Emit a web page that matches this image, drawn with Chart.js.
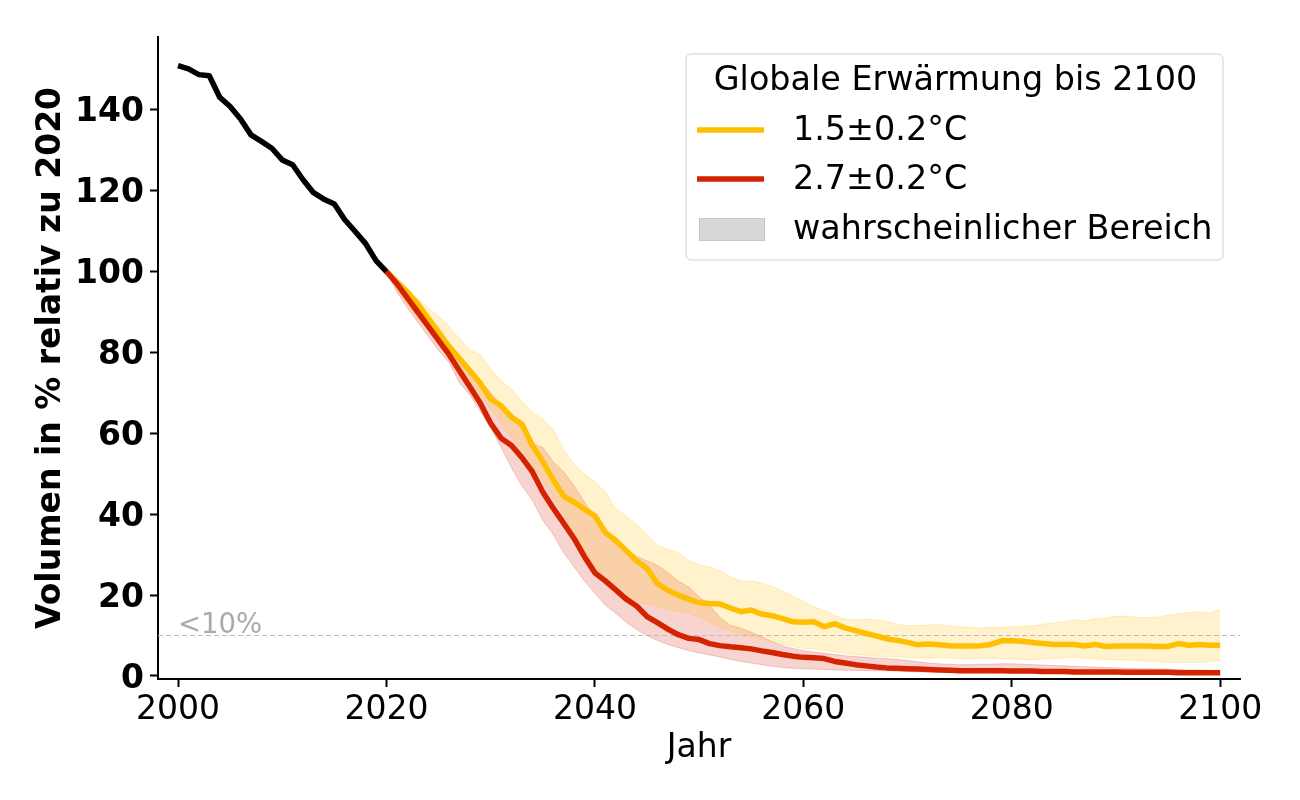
<!DOCTYPE html>
<html>
<head>
<meta charset="utf-8">
<script src="https://cdn.jsdelivr.net/npm/chart.js@4"></script>
<style>
  html, body { margin: 0; padding: 0; background: #fff; }
  #wrap { width: 1300px; height: 800px; }
</style>
</head>
<body>
<div id="wrap"><canvas id="myChart" width="1300" height="800"></canvas></div>
<script>
// Gletschervolumen: historisch bis 2020, danach zwei Erwärmungsszenarien

const FONT = "'DejaVu Sans', sans-serif";

// years (categories)
const histYears = Array.from({ length: 21 }, (_, i) => 2000 + i);
const projYears = Array.from({ length: 81 }, (_, i) => 2020 + i);
const xTickValues = [2000, 2020, 2040, 2060, 2080, 2100];
const yTickValues = [0, 20, 40, 60, 80, 100, 120, 140];

// historical volume in % of 2020
const histVolume = [150.9, 150.1, 148.7, 148.4, 143.1, 140.8, 137.7, 133.8, 132.2, 130.5,
  127.6, 126.4, 122.7, 119.5, 117.9, 116.7, 112.8, 109.9, 106.9, 102.7, 100];

// 1.5 °C scenario, 2020..2100
const median15 = [100, 97.5, 95, 92, 88.5, 85, 81.5, 78.5, 75.5, 72.4,
  68.5, 66.8, 64, 62.3, 57, 53, 48.5, 44.5, 43, 41.2,
  39.6, 35.5, 33.5, 31, 28.5, 26.6, 22.8, 21.2, 20, 19,
  18.1, 17.9, 17.8, 16.8, 15.9, 16.3, 15.3, 14.9, 14.2, 13.4,
  13.3, 13.4, 12.2, 12.9, 11.9, 11.2, 10.5, 9.9, 9.2, 8.8,
  8.3, 7.7, 7.9, 7.7, 7.5, 7.4, 7.4, 7.5, 7.8, 8.7,
  8.7, 8.6, 8.3, 8.0, 7.8, 7.8, 7.8, 7.4, 7.8, 7.3,
  7.4, 7.4, 7.4, 7.4, 7.3, 7.3, 8.0, 7.6, 7.8, 7.6,
  7.6];
const upper15 = [100, 97.8, 95.5, 93.2, 91, 89, 86.5, 83.5, 80.6, 79.5,
  76, 73, 71, 68, 65.2, 63.5, 61, 56, 52.3, 50,
  48, 45.5, 41.5, 39.5, 37.5, 35, 32.3, 31.3, 30.5, 28.5,
  27.5, 27, 26, 24.6, 23.5, 23.5, 23, 22.2, 21, 19.8,
  18.5, 17.2, 16.2, 15, 14, 13.9, 14, 13.9, 13.5, 12.8,
  12.4, 12.5, 12.6, 12.7, 12.4, 12.2, 12.0, 11.8, 12.1, 12.0,
  12.2, 12.3, 12.4, 12.8, 13.1, 13.4, 13.9, 13.6, 14.2, 14.3,
  14.8, 14.8, 14.5, 14.4, 14.6, 15.0, 15.4, 15.7, 15.9, 15.6,
  16.5];
const lower15 = [100, 95.5, 92, 88.5, 85.5, 82.5, 79.5, 76.5, 73, 69.5,
  66, 62.5, 59, 56, 52, 48.5, 44, 40, 35.5, 31,
  27, 24, 21.5, 19.5, 18.5, 17.8, 17.1, 16.5, 16, 15.5,
  14.5, 13.2, 12, 11.2, 10.4, 9.8, 9.1, 8.5, 7.9, 7.3,
  6.8, 6.6, 6.4, 6.0, 5.6, 5.3, 5.1, 4.9, 4.8, 4.7,
  4.6, 4.4, 4.4, 4.5, 4.4, 4.4, 4.3, 4.4, 4.4, 4.3,
  4.2, 4.1, 4.0, 4.2, 4.3, 4.5, 4.6, 4.4, 4.2, 4.1,
  4.0, 4.0, 3.8, 3.6, 3.5, 3.4, 3.3, 3.3, 3.3, 3.6,
  3.9];

// 2.7 °C scenario, 2020..2100
const median27 = [100, 97, 93.5, 90, 86.5, 83, 79.5, 75.5, 71.5, 67.5,
  62.5, 58.8, 57, 54, 50.5, 45.5, 41.5, 37.8, 34, 29.5,
  25.5, 23.5, 21.3, 19, 17.3, 14.7, 13.2, 11.6, 10.2, 9.3,
  9.0, 8.0, 7.5, 7.2, 7.0, 6.7, 6.2, 5.8, 5.3, 4.9,
  4.6, 4.5, 4.3, 3.6, 3.2, 2.8, 2.5, 2.2, 2.0, 1.9,
  1.8, 1.7, 1.6, 1.5, 1.4, 1.3, 1.3, 1.3, 1.3, 1.3,
  1.2, 1.2, 1.2, 1.1, 1.1, 1.1, 1.0, 1.0, 1.0, 1.0,
  1.0, 0.9, 0.9, 0.9, 0.9, 0.9, 0.8, 0.8, 0.8, 0.8,
  0.8];
const upper27 = [100, 97.5, 94, 90.5, 87.5, 84.5, 81.5, 78.5, 75.5, 73,
  70, 67, 65, 61, 57.5, 56.5, 53, 50.5, 47, 43,
  39, 36, 33.5, 31.5, 29.5, 28.5, 27.3, 25.5, 23.5, 22,
  19.5, 17.5, 14.5, 12.5, 11.8, 10.8, 9.7, 8.5, 7.4, 6.8,
  6.3, 5.9, 5.6, 5.3, 5.0, 4.8, 4.6, 4.4, 4.3, 4.1,
  3.8, 3.5, 3.2, 3.0, 2.9, 2.8, 2.8, 2.9, 2.9, 3.0,
  3.0, 2.9, 2.8, 2.7, 2.6, 2.5, 2.4, 2.3, 2.2, 2.1,
  2.0, 1.9, 1.8, 1.8, 1.7, 1.7, 1.6, 1.5, 1.5, 1.4,
  1.4];
const lower27 = [100, 95, 91, 87.5, 84, 80.5, 77.5, 72.5, 69.5, 65.5,
  61.5, 56.5, 51.5, 47, 43.5, 38.5, 35, 30.5, 27, 23.5,
  20.5, 17.5, 15.5, 13.3, 11.5, 10, 8.8, 7.8, 7.0, 6.3,
  5.7, 5.2, 4.7, 4.1, 3.6, 3.2, 2.8, 2.4, 2.1, 1.9,
  1.8, 1.7, 1.6, 1.5, 1.4, 1.4, 1.3, 1.3, 1.3, 1.2,
  1.1, 1.0, 1.0, 1.0, 0.9, 0.9, 0.9, 0.9, 0.8, 0.8,
  0.8, 0.8, 0.8, 0.7, 0.7, 0.7, 0.7, 0.7, 0.6, 0.6,
  0.6, 0.6, 0.6, 0.6, 0.5, 0.5, 0.5, 0.5, 0.5, 0.5,
  0.5];

const threshold = 10;
const xRange = [1998.08, 2101.9];
const yRange = [-0.75, 158];

const YELLOW = '#ffbf00';
const RED = '#d42300';
const YELLOW_FILL = 'rgba(255, 191, 0, 0.2)';
const RED_FILL = 'rgba(214, 40, 20, 0.2)';
const LW = 5.5;

const toXY = (xs, ys) => xs.map((x, i) => ({ x: x, y: ys[i] }));

// legend drawn inside the plot, top right
const legendBox = {
  id: 'legendBox',
  afterDraw(chart) {
    const ctx = chart.ctx;
    const area = chart.chartArea;
    const w = 537, h = 206;
    const x0 = area.right - 17 - w;
    const y0 = area.top + 17;
    ctx.save();
    ctx.beginPath();
    ctx.roundRect(x0, y0, w, h, 5);
    ctx.fillStyle = 'rgba(255,255,255,0.8)';
    ctx.fill();
    ctx.strokeStyle = '#d0d0d0';
    ctx.lineWidth = 1;
    ctx.stroke();

    ctx.fillStyle = '#000';
    ctx.font = '33.4px ' + FONT;
    ctx.textBaseline = 'middle';
    ctx.textAlign = 'center';
    ctx.fillText('Globale Erwärmung bis 2100', x0 + w / 2 + 1, y0 + 27);

    ctx.textAlign = 'left';
    const entries = [
      { color: YELLOW, label: '1.5±0.2°C', dy: 76 },
      { color: RED, label: '2.7±0.2°C', dy: 125 }
    ];
    entries.forEach(e => {
      ctx.strokeStyle = e.color;
      ctx.lineWidth = LW;
      ctx.beginPath();
      ctx.moveTo(x0 + 11, y0 + e.dy);
      ctx.lineTo(x0 + 78, y0 + e.dy);
      ctx.stroke();
      ctx.fillText(e.label, x0 + 107, y0 + e.dy + 1);
    });
    ctx.fillStyle = '#d8d8d8';
    ctx.fillRect(x0 + 13, y0 + 164, 66, 23);
    ctx.strokeStyle = '#c8c8c8';
    ctx.lineWidth = 1;
    ctx.strokeRect(x0 + 13.5, y0 + 164.5, 65, 22);
    ctx.fillStyle = '#000';
    ctx.fillText('wahrscheinlicher Bereich', x0 + 107, y0 + 176);
    ctx.restore();
  }
};

// "<10%" label placed on the threshold line
const thresholdLabel = {
  id: 'thresholdLabel',
  afterDatasetsDraw(chart) {
    const ctx = chart.ctx;
    const px = chart.scales.x.getPixelForValue(2000);
    const py = chart.scales.y.getPixelForValue(threshold);
    ctx.save();
    ctx.fillStyle = '#aaaaaa';
    ctx.font = '27.5px ' + FONT;
    ctx.textAlign = 'left';
    ctx.textBaseline = 'alphabetic';
    ctx.fillText('<10%', px, py - 3);
    ctx.restore();
  }
};

function renderChart() {
  const ctx = document.getElementById('myChart').getContext('2d');
  const lineBase = { pointRadius: 0, borderJoinStyle: 'round', borderCapStyle: 'butt', tension: 0, fill: false };
  const bandBase = { pointRadius: 0, tension: 0, borderWidth: 1 };

  new Chart(ctx, {
    type: 'line',
    data: {
      datasets: [
        { ...lineBase, label: 'Historisch', data: toXY(histYears, histVolume), borderColor: '#000', borderWidth: LW },
        { ...lineBase, label: '2.7±0.2°C', data: toXY(projYears, median27), borderColor: RED, borderWidth: LW },
        { ...lineBase, label: '1.5±0.2°C', data: toXY(projYears, median15), borderColor: YELLOW, borderWidth: LW },
        { ...lineBase, label: '<10%', data: [{ x: xRange[0], y: threshold }, { x: xRange[1], y: threshold }],
          borderColor: '#bbbbbb', borderWidth: 1, borderDash: [5, 3] },
        { ...bandBase, label: 'o15', data: toXY(projYears, upper15), borderColor: 'rgba(255,191,0,0.22)', backgroundColor: YELLOW_FILL, fill: '+1' },
        { ...bandBase, label: 'u15', data: toXY(projYears, lower15), borderColor: 'rgba(255,191,0,0.22)', fill: false },
        { ...bandBase, label: 'o27', data: toXY(projYears, upper27), borderColor: 'rgba(214,40,20,0.22)', backgroundColor: RED_FILL, fill: '+1' },
        { ...bandBase, label: 'u27', data: toXY(projYears, lower27), borderColor: 'rgba(214,40,20,0.22)', fill: false }
      ]
    },
    options: {
      responsive: false,
      animation: false,
      layout: { padding: { top: 37, right: 60, left: 0, bottom: 0 } },
      plugins: {
        legend: { display: false },
        tooltip: { enabled: false }
      },
      scales: {
        x: {
          type: 'linear',
          min: xRange[0],
          max: xRange[1],
          afterBuildTicks: s => { s.ticks = xTickValues.map(v => ({ value: v })); },
          afterFit: s => { s.height = 121; },
          ticks: { font: { family: FONT, size: 33 }, color: '#000', padding: 4, maxRotation: 0,
            callback: v => String(v) },
          grid: { drawOnChartArea: false, drawTicks: true, tickLength: 8, tickWidth: 2, tickColor: '#000' },
          border: { display: true, color: '#000', width: 2 },
          title: { display: true, text: 'Jahr', color: '#000', font: { family: FONT, size: 33 },
            padding: { top: 0, bottom: 32 } }
        },
        y: {
          min: yRange[0],
          max: yRange[1],
          afterBuildTicks: s => { s.ticks = yTickValues.map(v => ({ value: v })); },
          afterFit: s => { s.width = 158; },
          ticks: { font: { family: FONT, size: 33, weight: 'bold' }, color: '#000', padding: 6, labelOffset: 3 },
          grid: { drawOnChartArea: false, drawTicks: true, tickLength: 8, tickWidth: 2, tickColor: '#000' },
          border: { display: true, color: '#000', width: 2 },
          title: { display: true, text: 'Volumen in % relativ zu 2020', color: '#000',
            font: { family: FONT, size: 33, weight: 'bold' }, padding: { top: 32, bottom: 0 } }
        }
      }
    },
    plugins: [thresholdLabel, legendBox]
  });
}

renderChart();
</script>
</body>
</html>
